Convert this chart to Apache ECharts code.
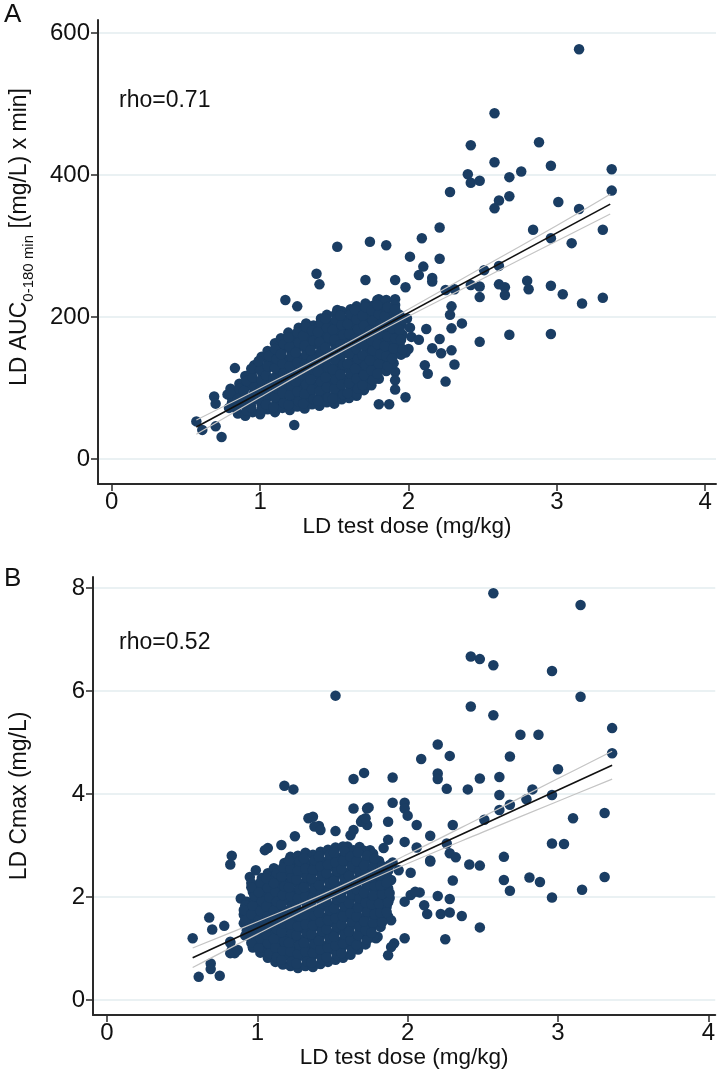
<!DOCTYPE html>
<html>
<head>
<meta charset="utf-8">
<script src="https://cdn.jsdelivr.net/npm/echarts@6/dist/echarts.min.js"></script>
<style>
  html, body { margin: 0; padding: 0; background: #fff; }
  #chart { width: 718px; height: 1075px; }
</style>
</head>
<body>
<div id="chart"></div>
<script>
// tick values
const xTicks = [0, 1, 2, 3, 4];
const yTicksA = [0, 200, 400, 600];
const yTicksB = [0, 2, 4, 6, 8];

// panel A: LD test dose (mg/kg) vs AUC 0-180 min
const outliersA = [
  [3.15,577],[2.58,487],[2.42,442],[2.88,446],[2.58,418],[2.40,401],[2.42,389],[2.48,392],[2.68,397],
  [2.76,405],[2.96,413],[3.37,408],[3.37,378],[2.28,376],[2.61,364],[2.58,353],[2.68,370],[3.01,362],
  [3.15,352],[2.21,326],[2.09,311],[1.74,306],[1.85,301],[2.84,323],[2.96,311],[3.10,304],[3.31,323],
  [2.01,285],[2.21,282],[2.10,271],[2.07,259],[2.16,255],[2.16,250],[1.91,252],[1.98,242],[2.51,266],
  [2.61,272],[2.48,243],[2.48,228],[2.61,246],[2.65,242],[2.65,231],[2.80,251],[2.81,239],[2.96,244],
  [3.04,232],[3.17,219],[3.31,227],[2.25,238],[2.31,239],[2.42,245],[2.29,215],[2.28,203],[2.29,184],
  [2.36,191],[2.12,183],[2.21,169],[2.02,172],[2.07,168],[1.93,178],[2.16,156],[2.29,153],[2.22,149],
  [1.98,150],[2.11,132],[2.13,120],[2.31,133],[2.25,109],[2.48,165],[2.68,175],[2.96,176],[1.91,123],
  [1.91,111],[1.91,98],[1.98,87],[1.80,77],[1.87,77],[1.85,224],[1.91,225],[1.52,299],[1.38,261],
  [1.40,246],[1.71,252],[1.17,224],[1.25,215],[1.52,210],[1.80,225],[0.83,128],[0.99,136],[0.69,88],
  [0.70,78],[0.78,91],[0.57,53],[0.61,41],[0.70,46],[0.74,31],[1.23,48],[1.65,89]
];
const blobA = [
  [0.79,72],[0.81,86],[0.80,99],
  [0.85,64],[0.86,78],[0.84,92],[0.86,106],
  [0.90,61],[0.91,75],[0.89,89],[0.91,103],[0.90,117],
  [0.95,66],[0.94,80],[0.96,94],[0.95,108],[0.94,121],[0.96,132],
  [1.00,63],[1.01,77],[0.99,91],[1.00,104],[1.02,118],[0.99,131],[1.01,144],
  [1.05,70],[1.04,84],[1.06,97],[1.05,111],[1.04,125],[1.06,138],[1.05,152],
  [1.10,66],[1.11,80],[1.09,93],[1.10,107],[1.12,121],[1.09,134],[1.11,148],[1.10,163],
  [1.15,72],[1.14,86],[1.16,100],[1.15,114],[1.14,127],[1.16,141],[1.15,155],[1.14,170],
  [1.20,69],[1.21,83],[1.19,96],[1.20,110],[1.22,124],[1.19,137],[1.21,151],[1.20,165],[1.19,178],
  [1.25,74],[1.24,88],[1.26,102],[1.25,116],[1.24,129],[1.26,143],[1.25,157],[1.24,171],[1.26,185],
  [1.30,71],[1.31,85],[1.29,98],[1.30,112],[1.32,126],[1.29,140],[1.31,154],[1.30,167],[1.29,181],[1.31,191],
  [1.35,77],[1.34,91],[1.36,105],[1.35,119],[1.34,133],[1.36,146],[1.35,160],[1.34,174],[1.36,188],
  [1.40,75],[1.41,89],[1.39,102],[1.40,116],[1.42,130],[1.39,144],[1.41,158],[1.40,172],[1.39,185],[1.41,198],
  [1.45,80],[1.44,94],[1.46,108],[1.45,122],[1.44,136],[1.46,150],[1.45,164],[1.44,178],[1.46,192],[1.45,203],
  [1.50,78],[1.51,92],[1.49,105],[1.50,119],[1.52,133],[1.49,147],[1.51,161],[1.50,175],[1.49,189],[1.51,204],
  [1.55,84],[1.54,98],[1.56,112],[1.55,126],[1.54,140],[1.56,154],[1.55,168],[1.54,182],[1.56,196],[1.55,208],
  [1.60,86],[1.61,100],[1.59,113],[1.60,127],[1.62,141],[1.59,155],[1.61,169],[1.60,183],[1.59,197],[1.61,211],
  [1.65,92],[1.64,106],[1.66,120],[1.65,134],[1.64,148],[1.66,162],[1.65,176],[1.64,190],[1.66,204],[1.65,215],
  [1.70,97],[1.71,111],[1.69,125],[1.70,139],[1.72,153],[1.69,167],[1.71,181],[1.70,195],[1.69,209],[1.71,219],
  [1.75,104],[1.74,118],[1.76,132],[1.75,146],[1.74,160],[1.76,174],[1.75,188],[1.74,202],[1.76,216],
  [1.80,113],[1.81,127],[1.79,141],[1.80,155],[1.82,169],[1.79,183],[1.81,197],[1.80,211],[1.79,224],
  [1.85,124],[1.84,138],[1.86,152],[1.85,166],[1.84,180],[1.86,194],[1.85,208],[1.84,221],
  [1.90,135],[1.91,149],[1.89,163],[1.90,177],[1.92,191],[1.89,205],[1.91,217],
  [1.95,147],[1.94,161],[1.96,175],[1.95,189],[1.94,203],
  [2.00,155],[2.01,185],[1.99,198]
];
// points packed between the ones above in the dense core
const coreA = [
  [0.81,79],[0.80,93],
  [0.84,71],[0.85,85],[0.86,99],
  [0.91,68],[0.90,82],[0.89,96],[0.91,110],
  [0.94,73],[0.95,87],[0.96,101],[0.95,115],[0.94,127],
  [1.01,70],[0.99,84],[1.00,98],[1.01,111],[1.00,125],[0.99,138],
  [1.04,77],[1.05,91],[1.06,104],[1.04,118],[1.05,131],[1.06,145],
  [1.09,73],[1.10,87],[1.11,100],[1.09,114],[1.10,128],[1.11,141],[1.10,155],
  [1.16,79],[1.15,93],[1.14,107],[1.16,121],[1.15,134],[1.14,148],[1.16,162],
  [1.19,76],[1.20,90],[1.21,103],[1.19,117],[1.20,131],[1.21,144],[1.20,158],[1.19,171],
  [1.26,81],[1.25,95],[1.24,109],[1.26,123],[1.25,136],[1.24,150],[1.26,164],[1.25,178],
  [1.29,78],[1.30,92],[1.31,105],[1.29,119],[1.30,133],[1.31,147],[1.30,160],[1.29,174],[1.31,186],
  [1.36,84],[1.35,98],[1.34,112],[1.36,126],[1.35,140],[1.34,153],[1.36,167],[1.35,181],
  [1.39,82],[1.40,96],[1.41,109],[1.39,123],[1.40,137],[1.41,151],[1.40,165],[1.39,179],[1.41,192],
  [1.46,87],[1.45,101],[1.44,115],[1.46,129],[1.45,143],[1.44,157],[1.46,171],[1.45,185],[1.44,198],
  [1.49,85],[1.50,99],[1.51,112],[1.49,126],[1.50,140],[1.51,154],[1.50,168],[1.49,182],[1.51,196],
  [1.56,91],[1.55,105],[1.54,119],[1.56,133],[1.55,147],[1.54,161],[1.56,175],[1.55,189],[1.54,202],
  [1.59,93],[1.60,107],[1.61,120],[1.59,134],[1.60,148],[1.61,162],[1.60,176],[1.59,190],[1.61,204],
  [1.66,99],[1.65,113],[1.64,127],[1.66,141],[1.65,155],[1.64,169],[1.66,183],[1.65,197],[1.64,210],
  [1.69,104],[1.70,118],[1.71,132],[1.69,146],[1.70,160],[1.71,174],[1.70,188],[1.69,202],[1.71,214],
  [1.76,111],[1.75,125],[1.74,139],[1.76,153],[1.75,167],[1.74,181],[1.76,195],[1.75,209],
  [1.79,120],[1.80,134],[1.81,148],[1.79,162],[1.80,176],[1.81,190],[1.80,204],[1.79,217],
  [1.86,131],[1.85,145],[1.84,159],[1.86,173],[1.85,187],[1.84,201],[1.86,214],
  [1.89,142],[1.90,156],[1.91,170],[1.89,184],[1.90,198],[1.91,211],
  [1.96,154],[1.95,168],[1.94,182],[1.96,196]
];
const fitA = [[0.57,45],[3.36,359]];
const ciUpA = [[0.57,55],[1.0,100],[1.45,148],[2.0,211],[2.5,270],[3.0,329],[3.36,373]];
const ciLoA = [[0.57,35],[1.0,87],[1.45,140],[2.0,201],[2.5,254],[3.0,307],[3.36,345]];

// panel B: LD test dose (mg/kg) vs Cmax (mg/L)
const outliersB = [
  [2.57,7.90],[3.15,7.67],[2.42,6.67],[2.48,6.62],[2.57,6.50],[2.96,6.39],[3.15,5.89],[2.42,5.70],
  [2.57,5.53],[2.75,5.15],[2.87,5.15],[3.36,5.28],[3.36,4.79],[2.20,4.96],[2.28,4.74],[2.09,4.68],
  [2.68,4.73],[3.00,4.48],[1.71,4.41],[1.90,4.32],[2.20,4.40],[2.20,4.29],[2.26,4.10],[2.40,4.09],
  [2.48,4.30],[2.61,4.33],[2.61,3.98],[2.83,4.09],[2.79,3.90],[2.96,3.98],[1.90,3.83],[1.98,3.83],
  [1.74,3.74],[2.68,3.79],[2.61,3.69],[2.51,3.50],[3.10,3.53],[3.31,3.63],[2.30,3.40],[2.96,3.04],
  [3.04,3.03],[2.64,2.78],[2.41,2.63],[2.48,2.61],[3.31,2.39],[2.64,2.33],[2.81,2.38],[2.88,2.29],
  [2.68,2.12],[3.16,2.14],[2.96,1.99],[2.30,2.32],[2.15,2.71],[2.28,2.85],[2.32,2.77],[2.26,3.04],
  [2.15,3.19],[2.08,2.09],[2.02,2.04],[2.20,2.02],[2.28,1.96],[2.11,1.84],[2.13,1.67],[2.22,1.67],
  [2.28,1.70],[2.36,1.63],[2.48,1.41],[2.25,1.18],[1.98,1.20],[1.91,1.10],[1.87,0.87],[2.02,2.47],
  [1.98,1.91],[1.79,1.20],[1.98,3.72],[2.00,3.58],[1.87,3.46],[2.06,3.40],[1.87,3.11],[1.98,3.07],
  [1.90,2.67],[1.52,5.91],[1.18,4.16],[1.24,4.09],[1.64,4.29],[0.83,2.80],[0.82,2.63],[0.57,1.20],
  [0.68,1.60],[0.70,1.37],[0.78,1.44],[0.61,0.45],[0.75,0.47],[0.69,0.71],[0.69,0.60],[0.83,0.97],
  [0.85,0.91],[0.82,1.13],[0.89,1.97],[0.93,1.91],[0.91,1.49],[0.95,2.39],[0.99,2.52],[1.07,2.95],
  [1.16,3.01],[1.25,3.18],[1.34,3.53],[1.37,3.56],[1.41,3.38],[1.52,3.28],[1.64,3.72],[1.73,3.72],
  [1.70,3.50],[1.73,3.40],[1.62,3.20],[1.89,1.03],[1.80,1.23],[1.75,1.26],[2.05,2.10],[1.75,2.88],
  [1.84,2.95],[1.80,2.59],[1.84,2.46],[1.89,2.33],[1.78,2.27],[1.82,2.20],[1.87,2.07],[1.87,1.91],
  [1.80,1.68],[1.82,1.55],[1.89,1.55],[1.94,2.52],[2.06,2.96],[2.15,2.69],[0.82,0.91],[0.87,0.97],
  [0.82,1.11],[1.05,2.91],[1.38,3.37],[1.42,3.30],[1.64,3.30],[1.69,3.46],[1.72,3.53],[1.60,2.98],
  [1.64,2.91],[1.75,2.91]
];
const blobB = [
  [0.92,1.25],[0.93,1.46],[0.91,1.66],[0.92,1.84],
  [0.97,1.02],[0.96,1.21],[0.98,1.38],[0.97,1.57],[0.96,1.74],[0.98,1.93],[0.97,2.10],[0.96,2.27],
  [1.02,0.92],[1.01,1.11],[1.03,1.28],[1.02,1.47],[1.01,1.64],[1.03,1.83],[1.02,2.00],[1.01,2.19],[1.03,2.37],
  [1.07,0.82],[1.06,1.01],[1.08,1.18],[1.07,1.37],[1.06,1.54],[1.08,1.73],[1.07,1.90],[1.06,2.09],[1.08,2.26],[1.07,2.46],
  [1.12,0.74],[1.11,0.93],[1.13,1.10],[1.12,1.29],[1.11,1.46],[1.13,1.65],[1.12,1.82],[1.11,2.01],[1.13,2.18],[1.12,2.37],[1.11,2.56],
  [1.17,0.69],[1.16,0.87],[1.18,1.04],[1.17,1.23],[1.16,1.40],[1.18,1.59],[1.17,1.76],[1.16,1.95],[1.18,2.12],[1.17,2.31],[1.16,2.48],[1.18,2.66],
  [1.22,0.66],[1.21,0.85],[1.23,1.02],[1.22,1.21],[1.21,1.38],[1.23,1.57],[1.22,1.74],[1.21,1.93],[1.23,2.10],[1.22,2.29],[1.21,2.46],[1.23,2.64],[1.22,2.78],
  [1.27,0.62],[1.26,0.81],[1.28,0.98],[1.27,1.17],[1.26,1.34],[1.28,1.53],[1.27,1.70],[1.26,1.89],[1.28,2.06],[1.27,2.25],[1.26,2.42],[1.28,2.61],[1.27,2.80],
  [1.32,0.66],[1.31,0.85],[1.33,1.02],[1.32,1.21],[1.31,1.38],[1.33,1.57],[1.32,1.74],[1.31,1.93],[1.33,2.10],[1.32,2.29],[1.31,2.46],[1.33,2.65],[1.32,2.86],
  [1.37,0.64],[1.36,0.83],[1.38,1.00],[1.37,1.19],[1.36,1.36],[1.38,1.55],[1.37,1.72],[1.36,1.91],[1.38,2.08],[1.37,2.27],[1.36,2.44],[1.38,2.63],[1.37,2.82],
  [1.42,0.70],[1.41,0.89],[1.43,1.06],[1.42,1.25],[1.41,1.42],[1.43,1.61],[1.42,1.78],[1.41,1.97],[1.43,2.14],[1.42,2.33],[1.41,2.50],[1.43,2.69],[1.42,2.88],
  [1.47,0.74],[1.46,0.93],[1.48,1.10],[1.47,1.29],[1.46,1.46],[1.48,1.65],[1.47,1.82],[1.46,2.01],[1.48,2.18],[1.47,2.37],[1.46,2.54],[1.48,2.73],[1.47,2.92],
  [1.52,0.78],[1.51,0.97],[1.53,1.14],[1.52,1.33],[1.51,1.50],[1.53,1.69],[1.52,1.86],[1.51,2.05],[1.53,2.22],[1.52,2.41],[1.51,2.58],[1.53,2.77],[1.52,2.96],
  [1.57,0.82],[1.56,1.01],[1.58,1.18],[1.57,1.37],[1.56,1.54],[1.58,1.73],[1.57,1.90],[1.56,2.09],[1.58,2.26],[1.57,2.45],[1.56,2.62],[1.58,2.81],[1.57,2.98],
  [1.62,0.88],[1.61,1.07],[1.63,1.24],[1.62,1.43],[1.61,1.60],[1.63,1.79],[1.62,1.96],[1.61,2.15],[1.63,2.32],[1.62,2.51],[1.61,2.68],[1.63,2.88],
  [1.67,0.98],[1.66,1.17],[1.68,1.34],[1.67,1.53],[1.66,1.70],[1.68,1.89],[1.67,2.06],[1.66,2.25],[1.68,2.42],[1.67,2.61],[1.66,2.78],[1.68,2.97],
  [1.72,1.08],[1.71,1.27],[1.73,1.44],[1.72,1.63],[1.71,1.80],[1.73,1.99],[1.72,2.16],[1.71,2.35],[1.73,2.52],[1.72,2.71],[1.71,2.90],
  [1.77,1.22],[1.76,1.41],[1.78,1.58],[1.77,1.77],[1.76,1.94],[1.78,2.13],[1.77,2.30],[1.76,2.49],[1.78,2.66],[1.77,2.84],
  [1.82,1.42],[1.81,1.61],[1.83,1.78],[1.82,1.97],[1.81,2.14],[1.83,2.33],[1.82,2.50],[1.81,2.70],
  [1.87,1.62],[1.86,1.81],[1.88,1.98],[1.87,2.17],[1.86,2.40],[1.88,2.62]
];
const coreB = [
  [0.93,1.35],[0.92,1.56],[0.91,1.75],
  [0.96,1.11],[0.97,1.30],[0.98,1.47],[0.96,1.66],[0.97,1.83],[0.98,2.02],[0.96,2.19],
  [1.01,1.01],[1.02,1.20],[1.03,1.37],[1.01,1.56],[1.02,1.73],[1.03,1.92],[1.01,2.09],[1.02,2.28],
  [1.08,0.91],[1.07,1.10],[1.06,1.27],[1.08,1.46],[1.07,1.63],[1.06,1.82],[1.08,1.99],[1.07,2.18],[1.06,2.36],
  [1.13,0.83],[1.12,1.02],[1.11,1.19],[1.13,1.38],[1.12,1.55],[1.11,1.74],[1.13,1.91],[1.12,2.10],[1.11,2.27],[1.13,2.46],
  [1.16,0.78],[1.17,0.96],[1.18,1.13],[1.16,1.32],[1.17,1.49],[1.18,1.68],[1.16,1.85],[1.17,2.04],[1.18,2.21],[1.16,2.40],[1.17,2.57],
  [1.23,0.75],[1.22,0.94],[1.21,1.11],[1.23,1.30],[1.22,1.47],[1.21,1.66],[1.23,1.83],[1.22,2.02],[1.21,2.19],[1.23,2.38],[1.22,2.55],[1.21,2.71],
  [1.26,0.71],[1.27,0.90],[1.28,1.07],[1.26,1.26],[1.27,1.43],[1.28,1.62],[1.26,1.79],[1.27,1.98],[1.28,2.15],[1.26,2.34],[1.27,2.51],[1.28,2.70],
  [1.33,0.75],[1.32,0.94],[1.31,1.11],[1.33,1.30],[1.32,1.47],[1.31,1.66],[1.33,1.83],[1.32,2.02],[1.31,2.19],[1.33,2.38],[1.32,2.55],[1.31,2.75],
  [1.36,0.73],[1.37,0.92],[1.38,1.09],[1.36,1.28],[1.37,1.45],[1.38,1.64],[1.36,1.81],[1.37,2.00],[1.38,2.17],[1.36,2.36],[1.37,2.53],[1.38,2.72],
  [1.43,0.79],[1.42,0.98],[1.41,1.15],[1.43,1.34],[1.42,1.51],[1.41,1.70],[1.43,1.87],[1.42,2.06],[1.41,2.23],[1.43,2.42],[1.42,2.59],[1.41,2.78],
  [1.46,0.83],[1.47,1.02],[1.48,1.19],[1.46,1.38],[1.47,1.55],[1.48,1.74],[1.46,1.91],[1.47,2.10],[1.48,2.27],[1.46,2.46],[1.47,2.63],[1.48,2.82],
  [1.53,0.87],[1.52,1.06],[1.51,1.23],[1.53,1.42],[1.52,1.59],[1.51,1.78],[1.53,1.95],[1.52,2.14],[1.51,2.31],[1.53,2.50],[1.52,2.67],[1.51,2.86],
  [1.56,0.91],[1.57,1.10],[1.58,1.27],[1.56,1.46],[1.57,1.63],[1.58,1.82],[1.56,1.99],[1.57,2.18],[1.58,2.35],[1.56,2.54],[1.57,2.71],[1.58,2.89],
  [1.63,0.97],[1.62,1.16],[1.61,1.33],[1.63,1.52],[1.62,1.69],[1.61,1.88],[1.63,2.05],[1.62,2.24],[1.61,2.41],[1.63,2.60],[1.62,2.78],
  [1.66,1.07],[1.67,1.26],[1.68,1.43],[1.66,1.62],[1.67,1.79],[1.68,1.98],[1.66,2.15],[1.67,2.34],[1.68,2.51],[1.66,2.70],[1.67,2.87],
  [1.73,1.17],[1.72,1.36],[1.71,1.53],[1.73,1.72],[1.72,1.89],[1.71,2.08],[1.73,2.25],[1.72,2.44],[1.71,2.61],[1.73,2.80],
  [1.76,1.31],[1.77,1.50],[1.78,1.67],[1.76,1.86],[1.77,2.03],[1.78,2.22],[1.76,2.39],[1.77,2.58],[1.78,2.75],
  [1.83,1.51],[1.82,1.70],[1.81,1.87],[1.83,2.06],[1.82,2.23],[1.81,2.42],[1.83,2.60],
  [1.86,1.71],[1.87,1.90],[1.88,2.08],[1.86,2.28],[1.87,2.51]
];
const fitB = [[0.57,0.82],[3.36,4.56]];
const ciUpB = [[0.57,1.01],[1.0,1.52],[1.45,2.07],[2.0,2.83],[2.5,3.56],[3.0,4.30],[3.36,4.83]];
const ciLoB = [[0.57,0.63],[1.0,1.28],[1.45,1.93],[2.0,2.65],[2.5,3.26],[3.0,3.86],[3.36,4.29]];

const FONT = "'Liberation Sans Narrow', 'Liberation Sans', Arial, sans-serif";
const DOT = '#1a3d63';
const AXIS = '#2a2a2a';
const GRIDLINE = '#e3edef';

const chart = echarts.init(document.getElementById('chart'));

function xAxisOf(gridIndex, min, max) {
  return {
    type: 'value', gridIndex: gridIndex, min: min, max: max,
    axisLine: { show: true, onZero: false, lineStyle: { color: AXIS, width: 2 } },
    axisTick: { show: true, customValues: xTicks, length: 7, lineStyle: { color: AXIS, width: 1.5 } },
    axisLabel: { customValues: xTicks, fontFamily: FONT, fontSize: 24, color: '#111', margin: 6 },
    splitLine: { show: false },
    name: 'LD test dose (mg/kg)', nameLocation: 'middle', nameGap: 29,
    nameTextStyle: { fontFamily: FONT, fontSize: 22.5, color: '#111' }
  };
}

function yAxisOf(gridIndex, min, max, ticks, name, rich, pad) {
  return {
    type: 'value', gridIndex: gridIndex, min: min, max: max,
    axisLine: { show: true, onZero: false, lineStyle: { color: AXIS, width: 2 } },
    axisTick: { show: true, customValues: ticks, length: 7, lineStyle: { color: AXIS, width: 1.5 } },
    axisLabel: { customValues: ticks, fontFamily: FONT, fontSize: 24, color: '#111', margin: 8 },
    splitLine: { show: true, customValues: ticks, lineStyle: { color: GRIDLINE, width: 1.5 } },
    name: name, nameLocation: 'middle', nameGap: 62, nameRotate: 90,
    nameTextStyle: { fontFamily: FONT, fontSize: 23, color: '#111', rich: rich, padding: pad }
  };
}

function dots(i, data) {
  return {
    type: 'scatter', xAxisIndex: i, yAxisIndex: i, data: data,
    symbolSize: 10.5, itemStyle: { color: DOT, opacity: 1 }, z: 2
  };
}
function line(i, data, color, width, smooth) {
  return {
    type: 'line', xAxisIndex: i, yAxisIndex: i, data: data, symbol: 'none',
    smooth: smooth, lineStyle: { color: color, width: width }, z: 3, silent: true
  };
}

const aucRich = {
  m: { fontFamily: FONT, fontSize: 23, color: '#111', verticalAlign: 'bottom', padding: [0, 0, 5, 0] },
  s: { fontFamily: FONT, fontSize: 15, color: '#111', verticalAlign: 'bottom' }
};

chart.setOption({
  animation: false,
  backgroundColor: '#fff',
  grid: [
    { left: 87, top: 20, right: 2, height: 464 },
    { left: 91, top: 577, right: 2, height: 438 }
  ],
  xAxis: [xAxisOf(0, -0.093, 4.073), xAxisOf(1, -0.093, 4.046)],
  yAxis: [
    yAxisOf(0, -35.2, 618.3, yTicksA, '{m|LD AUC}{s|0-180 min}{m| [(mg/L) x min]}', aucRich, [0, 0, 0, 30]),
    yAxisOf(1, -0.291, 8.214, yTicksB, 'LD Cmax (mg/L)', null, 0)
  ],
  series: [
    dots(0, outliersA.concat(blobA, coreA)),
    line(0, ciUpA, '#c4c4c4', 1.2, 0.4),
    line(0, ciLoA, '#c4c4c4', 1.2, 0.4),
    line(0, fitA, '#111', 1.6, false),
    dots(1, outliersB.concat(blobB, coreB)),
    line(1, ciUpB, '#c4c4c4', 1.2, 0.4),
    line(1, ciLoB, '#c4c4c4', 1.2, 0.4),
    line(1, fitB, '#111', 1.6, false)
  ],
  graphic: [
    { type: 'text', left: 4, top: 2, style: { text: 'A', font: '26px ' + FONT, fill: '#111' } },
    { type: 'text', left: 4, top: 566, style: { text: 'B', font: '26px ' + FONT, fill: '#111' } },
    { type: 'text', left: 119, top: 89, style: { text: 'rho=0.71', font: '23px ' + FONT, fill: '#111' } },
    { type: 'text', left: 119, top: 631, style: { text: 'rho=0.52', font: '23px ' + FONT, fill: '#111' } }
  ]
});
</script>
</body>
</html>
